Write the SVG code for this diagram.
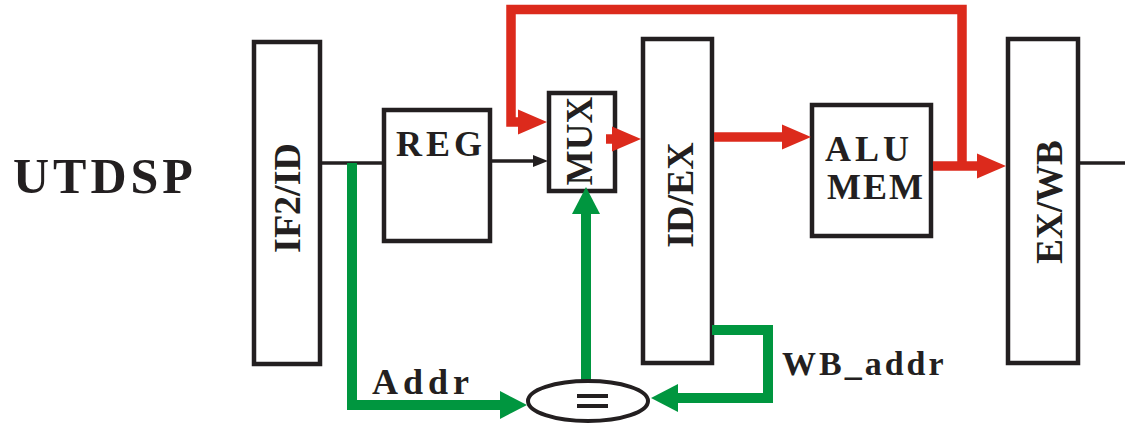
<svg xmlns="http://www.w3.org/2000/svg" width="1125" height="424" viewBox="0 0 1125 424">
<style>
.box{fill:#fff;stroke:#231f20;stroke-width:4.5}
.t{font-family:"Liberation Serif","Times New Roman",serif;font-weight:bold;fill:#231f20}
.red{fill:none;stroke:#dc2a1c;stroke-width:9.5;stroke-linejoin:miter}
.grn{fill:none;stroke:#00963f;stroke-width:10;stroke-linejoin:miter}
.blk{fill:none;stroke:#231f20;stroke-width:3.5}
</style>
<defs>
<marker id="ar" markerUnits="userSpaceOnUse" markerWidth="29" markerHeight="25" refX="0" refY="12.5" orient="auto" overflow="visible"><path d="M0,0 L29,12.5 L0,25 z" fill="#dc2a1c"/></marker>
<marker id="ag" markerUnits="userSpaceOnUse" markerWidth="27" markerHeight="28" refX="0" refY="14" orient="auto" overflow="visible"><path d="M0,0 L27,14 L0,28 z" fill="#00963f"/></marker>
<marker id="ab" markerUnits="userSpaceOnUse" markerWidth="15" markerHeight="12" refX="0" refY="6" orient="auto" overflow="visible"><path d="M0,0 L15,6 L0,12 z" fill="#231f20"/></marker>
</defs>
<rect width="1125" height="424" fill="#fff"/>
<g id="utdsp"><text class="t" x="13" y="193" font-size="50" letter-spacing="4">UTDSP</text></g>
<g id="if2id"><rect class="box" x="254" y="42" width="66" height="322"/><text class="t" font-size="38" text-anchor="middle" transform="translate(300,198) rotate(-90)">IF2/ID</text></g>
<g id="reg"><rect class="box" x="384" y="110" width="106" height="131"/><text class="t" x="396" y="156" font-size="36" letter-spacing="4">REG</text></g>
<g id="mux"><rect class="box" x="549" y="93" width="66" height="98"/><text class="t" font-size="37" text-anchor="middle" transform="translate(592,141) rotate(-90)">MUX</text></g>
<g id="idex"><rect class="box" x="643" y="39" width="69" height="324"/><text class="t" font-size="38" text-anchor="middle" transform="translate(693,195) rotate(-90)">ID/EX</text></g>
<g id="alumem"><rect class="box" x="812" y="105" width="119" height="131"/><text class="t" x="825" y="161" font-size="36" letter-spacing="4">ALU</text><text class="t" x="827" y="199" font-size="36" letter-spacing="2">MEM</text></g>
<g id="exwb"><rect class="box" x="1008" y="39" width="70" height="324"/><text class="t" font-size="37" text-anchor="middle" transform="translate(1062,202) rotate(-90)">EX/WB</text></g>
<g id="connectors">
<path class="blk" d="M322,163 H382"/>
<path class="blk" d="M492,161 H533" marker-end="url(#ab)"/>
<path class="blk" d="M1080,163 H1125"/>
<path class="red" d="M962,166 V9.5 H511 V122 H518" marker-end="url(#ar)"/>
<path class="red" d="M933,166 H977" marker-end="url(#ar)"/>
<path class="red" d="M606,139 H612" marker-end="url(#ar)"/>
<path class="red" d="M714,137 H782" marker-end="url(#ar)"/>
<path class="grn" d="M352,163 V405 H500" marker-end="url(#ag)"/>
<path class="grn" d="M586,380 V214" marker-end="url(#ag)"/>
<path class="grn" d="M712,330 H768 V398 H678" marker-end="url(#ag)"/>
</g>
<g id="eq"><ellipse cx="588" cy="401" rx="60" ry="20" fill="#fff" stroke="#231f20" stroke-width="4"/><rect x="577" y="394" width="31" height="4" fill="#231f20"/><rect x="577" y="404" width="31" height="4" fill="#231f20"/></g>
<g id="labels"><text class="t" x="372" y="394" font-size="36" letter-spacing="5">Addr</text><text class="t" x="782" y="375" font-size="34" letter-spacing="3">WB_addr</text></g>
</svg>
